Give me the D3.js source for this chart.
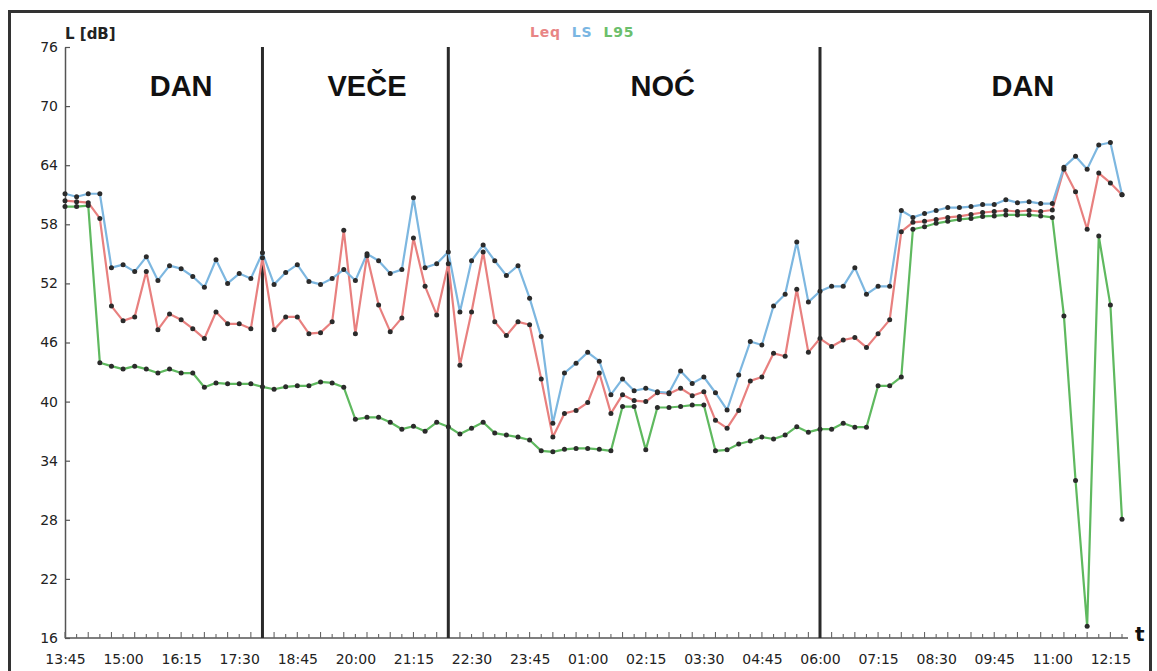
<!DOCTYPE html>
<html>
<head>
<meta charset="utf-8">
<script src="https://cdn.jsdelivr.net/npm/d3@7"></script>
<style>
  html, body { margin: 0; padding: 0; background: #fff; }
  svg { display: block; }
</style>
</head>
<body>
<div id="chart"></div>
<script>
// ---- data ----
const startLabel = "13:45";          // first sample, 15-minute interval samples
const stepMinutes = 15;

const leq = [60.4,60.3,60.2,58.6,49.7,48.2,48.6,53.2,47.3,48.9,48.3,47.4,46.4,49.1,47.9,47.9,47.4,54.6,47.3,48.6,
  48.6,46.9,47.0,48.1,57.4,46.9,54.8,49.8,47.1,48.5,56.6,51.7,48.8,54.0,43.7,49.1,55.2,48.1,46.7,48.1,
  47.8,42.3,36.4,38.8,39.1,39.9,42.9,38.8,40.7,40.1,40.0,40.9,40.8,41.35,40.6,41.0,38.1,37.3,39.1,42.1,
  42.5,44.9,44.6,51.4,45.0,46.4,45.6,46.25,46.5,45.5,46.9,48.3,57.25,58.2,58.3,58.5,58.7,58.8,59.0,59.2,
  59.3,59.4,59.3,59.4,59.3,59.45,63.6,61.3,57.5,63.2,62.2,61.0];

const ls = [61.1,60.8,61.1,61.1,53.6,53.9,53.2,54.7,52.3,53.8,53.5,52.7,51.6,54.4,52.0,53.0,52.5,55.1,51.9,53.1,
  53.9,52.2,51.9,52.5,53.4,52.3,55.0,54.3,53.0,53.4,60.7,53.6,54.0,55.2,49.1,54.3,55.9,54.3,52.8,53.8,
  50.5,46.6,37.8,42.9,43.9,45.0,44.1,40.7,42.3,41.1,41.35,41.0,40.9,43.1,41.85,42.5,40.9,39.15,42.7,46.1,
  45.75,49.7,50.9,56.2,50.1,51.2,51.7,51.7,53.6,50.9,51.7,51.7,59.4,58.7,59.1,59.4,59.7,59.7,59.8,60.0,
  60.0,60.5,60.2,60.3,60.1,60.1,63.8,64.9,63.6,66.05,66.3,61.0];

const l95 = [59.8,59.8,59.9,43.95,43.6,43.3,43.6,43.3,42.9,43.3,42.9,42.9,41.45,41.9,41.8,41.8,41.8,41.5,41.25,41.5,
  41.6,41.6,42.0,41.9,41.45,38.2,38.4,38.4,37.9,37.2,37.5,37.0,37.9,37.45,36.7,37.3,37.9,36.8,36.6,36.4,
  36.1,35.0,34.9,35.15,35.25,35.25,35.15,35.0,39.5,39.5,35.1,39.4,39.4,39.5,39.65,39.65,35.0,35.1,35.7,36.0,
  36.4,36.2,36.6,37.45,36.9,37.2,37.2,37.8,37.4,37.4,41.6,41.6,42.5,57.5,57.75,58.1,58.3,58.5,58.6,58.8,
  58.85,58.95,58.95,58.95,58.85,58.7,48.7,32.0,17.2,56.8,49.8,28.05];

const seriesNames = ["Leq", "LS", "L95"];
const xTickLabels = ["13:45","15:00","16:15","17:30","18:45","20:00","21:15","22:30","23:45","01:00",
  "02:15","03:30","04:45","06:00","07:15","08:30","09:45","11:00","12:15"];
const yTickValues = [16,22,28,34,40,46,52,58,64,70,76];
const periodBoundaries = ["18:00","22:00","06:00"];
const periodNames = ["DAN","VEČE","NOĆ","DAN"];
const periodLabelTimes = ["16:15","20:15","02:37","10:22"];
const yTitle = "L [dB]";
const xTitle = "t";

// ---- helpers ----
const baseDay = new Date(2020, 0, 1);
function toDate(hhmm) {
  const [h, m] = hhmm.split(":").map(Number);
  const d = new Date(baseDay);
  const [sh, sm] = startLabel.split(":").map(Number);
  if (h * 60 + m < sh * 60 + sm) d.setDate(d.getDate() + 1);
  d.setHours(h, m, 0, 0);
  return d;
}
const t0 = toDate(startLabel);
const times = leq.map((_, i) => d3.timeMinute.offset(t0, i * stepMinutes));

// ---- layout ----
const W = 1157, H = 671;
const colors = { Leq: "#e8807f", LS: "#7db7e0", L95: "#5fb95f" };
const legendColors = { Leq: "#e88585", LS: "#7ab6e2", L95: "#6cbf6c" };

const svg = d3.select("#chart").append("svg").attr("width", W).attr("height", H);

// outer frame
svg.append("rect").attr("x", 9.5).attr("y", 11.5).attr("width", 1141).attr("height", 700)
  .attr("fill", "none").attr("stroke", "#333").attr("stroke-width", 3);

const x = d3.scaleTime().domain([times[0], times[times.length - 1]]).range([65, 1122]);
const y = d3.scaleLinear().domain([16, 76]).range([638, 47]);

const font = "'DejaVu Sans', Verdana, sans-serif";

// y axis
const yAxis = svg.append("g").attr("transform", `translate(${x(times[0])},0)`)
  .call(d3.axisLeft(y).tickValues(yTickValues).tickSizeInner(-5).tickSizeOuter(0).tickPadding(7));
yAxis.select(".domain").attr("stroke", "#555").attr("stroke-width", 1.5);
yAxis.selectAll(".tick line").attr("stroke", "#555").attr("stroke-width", 1.2);
yAxis.selectAll(".tick text").attr("font-family", font).attr("font-size", 14).attr("fill", "#222");

// x axis: labelled ticks
const xAxisG = svg.append("g").attr("transform", `translate(0,${y(16)})`)
  .call(d3.axisBottom(x).tickValues(xTickLabels.map(toDate))
    .tickFormat(d3.timeFormat("%H:%M")).tickSizeInner(0).tickSizeOuter(0).tickPadding(16));
xAxisG.select(".domain").remove();
xAxisG.selectAll(".tick text").attr("font-family", font).attr("font-size", 14).attr("fill", "#222");

// x axis line
svg.append("line").attr("x1", x(times[0])).attr("x2", x(times[times.length - 1]) + 6)
  .attr("y1", y(16)).attr("y2", y(16)).attr("stroke", "#555").attr("stroke-width", 1.5);

// minor ticks for every sample
svg.append("g").selectAll("line").data(times).join("line")
  .attr("x1", d => x(d)).attr("x2", d => x(d))
  .attr("y1", y(16)).attr("y2", (d, i) => y(16) - (i % 2 === 0 ? 6 : 4))
  .attr("stroke", "#666").attr("stroke-width", 1.1);

// period boundaries
svg.append("g").selectAll("line").data(periodBoundaries).join("line")
  .attr("x1", d => x(toDate(d))).attr("x2", d => x(toDate(d)))
  .attr("y1", y(76)).attr("y2", y(16))
  .attr("stroke", "#2a2a2a").attr("stroke-width", 3);

// period labels
svg.append("g").selectAll("text").data(periodNames).join("text")
  .attr("x", (d, i) => x(toDate(periodLabelTimes[i])))
  .attr("y", y(71))
  .attr("text-anchor", "middle")
  .attr("font-family", "'Liberation Sans', Arial, sans-serif")
  .attr("font-weight", "bold").attr("font-size", 29).attr("fill", "#111")
  .text(d => d);

// lines
const seriesData = { Leq: leq, LS: ls, L95: l95 };
const line = d3.line().x((d, i) => x(times[i])).y(d => y(d));
const linesG = svg.append("g");
seriesNames.forEach(name => {
  linesG.append("path").datum(seriesData[name])
    .attr("fill", "none").attr("stroke", colors[name]).attr("stroke-width", 2.2)
    .attr("stroke-linejoin", "round").attr("d", line);
});
// dots
const dotsG = svg.append("g");
seriesNames.forEach(name => {
  dotsG.selectAll(null).data(seriesData[name]).join("circle")
    .attr("cx", (d, i) => x(times[i])).attr("cy", d => y(d))
    .attr("r", 2.5).attr("fill", "#2b2b2b");
});

// axis titles
svg.append("text").attr("x", x(times[0])).attr("y", 39)
  .attr("font-family", font).attr("font-weight", "bold").attr("font-size", 15).attr("fill", "#222")
  .text(yTitle);
svg.append("text").attr("x", 1135).attr("y", 641)
  .attr("font-family", font).attr("font-weight", "bold").attr("font-size", 20).attr("fill", "#111")
  .text(xTitle);

// legend
const legendG = svg.append("g");
let lx = 530;
seriesNames.forEach(name => {
  const t = legendG.append("text").attr("x", lx).attr("y", 37)
    .attr("font-family", font).attr("font-weight", "bold").attr("font-size", 14)
    .attr("letter-spacing", 0.8).attr("fill", legendColors[name]).text(name);
  lx += t.node().getComputedTextLength() + 11;
});
</script>
</body>
</html>
